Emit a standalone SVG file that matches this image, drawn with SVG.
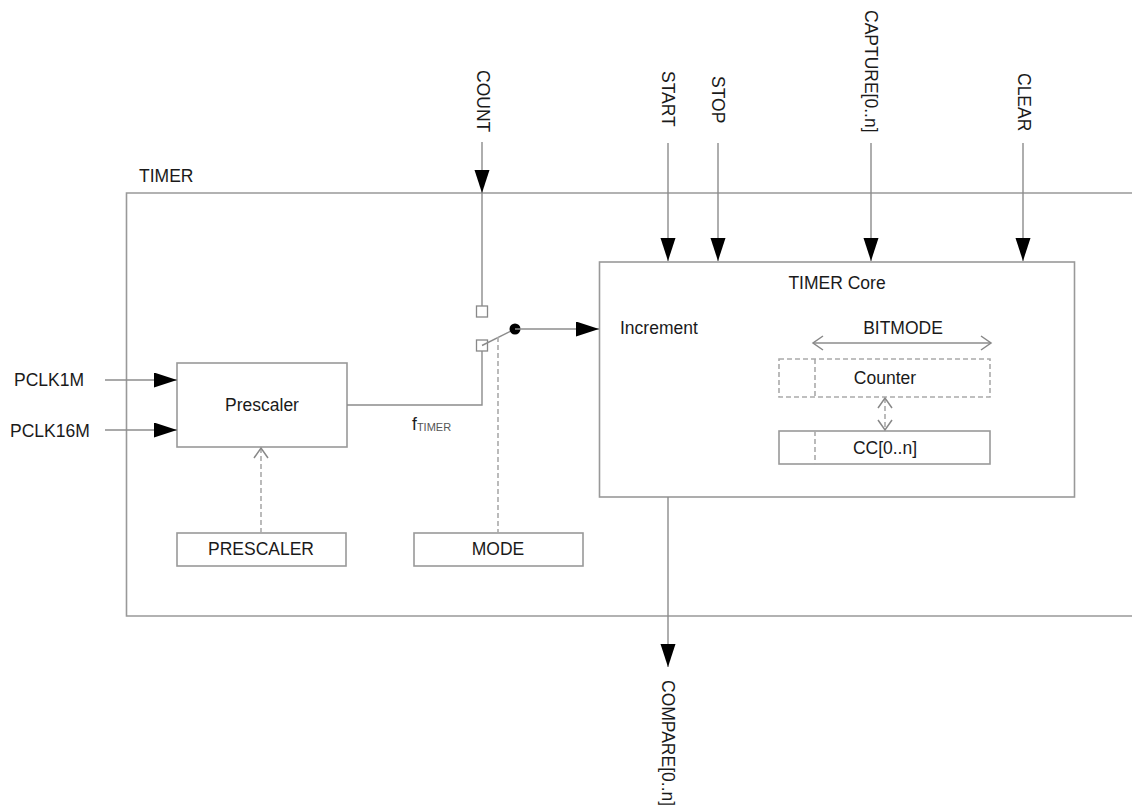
<svg xmlns="http://www.w3.org/2000/svg" width="1132" height="808" viewBox="0 0 1132 808">
<style>
text{font-family:"Liberation Sans",Arial,sans-serif;font-size:17.5px;fill:#1a1a1a}
.box{fill:none;stroke:#999;stroke-width:1.6}
.ln{fill:none;stroke:#8c8c8c;stroke-width:1.4}
.dash{fill:none;stroke:#aaa;stroke-width:1.6;stroke-dasharray:5,3}
.mid{text-anchor:middle}
</style>
<defs>
<marker id="ah" markerUnits="userSpaceOnUse" markerWidth="24" markerHeight="16" refX="23" refY="7.5" orient="auto" viewBox="0 0 24 16">
<path d="M0,0 L23,7.5 L0,15 z" fill="#000"/>
</marker>
<marker id="oh" markerUnits="userSpaceOnUse" markerWidth="14" markerHeight="18" refX="11" refY="8" orient="auto-start-reverse" viewBox="0 0 14 18">
<path d="M1,1 L11,8 L1,15" fill="none" stroke="#888" stroke-width="1.5"/>
</marker>
</defs>
<rect width="1132" height="808" fill="#fff"/>

<g id="timer">
<path class="box" d="M1132,193 H126.5 V616 H1132"/>
<text x="139" y="182">TIMER</text>
</g>

<g id="prescaler">
<rect class="box" x="177" y="363" width="170" height="84"/>
<text class="mid" x="262" y="411">Prescaler</text>
</g>

<g id="prescaler-reg">
<rect class="box" x="177" y="533" width="169" height="33"/>
<text class="mid" x="261" y="555">PRESCALER</text>
</g>

<g id="mode">
<rect class="box" x="414" y="533" width="169" height="33"/>
<text class="mid" x="498" y="555">MODE</text>
</g>

<g id="core">
<rect class="box" x="599.5" y="262" width="475" height="235"/>
<text class="mid" x="837" y="289">TIMER Core</text>
<text x="620" y="334">Increment</text>
<text class="mid" x="903" y="334">BITMODE</text>
</g>

<g id="counter">
<rect class="dash" x="779" y="359" width="211" height="38"/>
<line class="dash" x1="815" y1="359" x2="815" y2="397"/>
<text class="mid" x="885" y="384">Counter</text>
</g>

<g id="cc">
<rect class="box" x="779" y="431" width="211" height="33"/>
<line class="dash" x1="815" y1="431" x2="815" y2="464"/>
<text class="mid" x="885" y="454">CC[0..n]</text>
</g>

<g id="switch">
<rect x="476.5" y="306" width="11" height="11" fill="#fff" stroke="#888" stroke-width="1.3"/>
<rect x="476.5" y="340" width="11" height="11" fill="#fff" stroke="#888" stroke-width="1.3"/>
<line class="ln" x1="482" y1="345.5" x2="515" y2="329"/>
<circle cx="515" cy="329" r="5.5" fill="#000"/>
</g>

<g id="labels">
<text x="412" y="430" fill="#333">f<tspan font-size="11" dy="1" fill="#555">TIMER</tspan></text>
<text x="14" y="386">PCLK1M</text>
<text x="10" y="437">PCLK16M</text>
<text transform="translate(477,70) rotate(90)">COUNT</text>
<text transform="translate(662,71) rotate(90)">START</text>
<text transform="translate(712,76) rotate(90)">STOP</text>
<text transform="translate(865,10) rotate(90)">CAPTURE[0..n]</text>
<text transform="translate(1018,73) rotate(90)">CLEAR</text>
<text transform="translate(662,680) rotate(90)">COMPARE[0..n]</text>
</g>

<g id="connectors">
<line class="ln" x1="105" y1="380" x2="177" y2="380" marker-end="url(#ah)"/>
<line class="ln" x1="105" y1="430" x2="177" y2="430" marker-end="url(#ah)"/>
<line class="ln" x1="482" y1="142" x2="482" y2="193" marker-end="url(#ah)"/>
<line class="ln" x1="482" y1="193" x2="482" y2="306" stroke="#666"/>
<path class="ln" d="M347,405 H482 V351"/>
<line class="ln" x1="515" y1="329" x2="599" y2="329" marker-end="url(#ah)"/>
<line class="ln" x1="668" y1="143" x2="668" y2="261" marker-end="url(#ah)"/>
<line class="ln" x1="718" y1="143" x2="718" y2="261" marker-end="url(#ah)"/>
<line class="ln" x1="871" y1="143" x2="871" y2="261" marker-end="url(#ah)"/>
<line class="ln" x1="1023" y1="143" x2="1023" y2="261" marker-end="url(#ah)"/>
<line class="ln" x1="668" y1="497" x2="668" y2="667" marker-end="url(#ah)"/>
<line class="dash" x1="261" y1="533" x2="261" y2="448" marker-end="url(#oh)"/>
<line class="dash" x1="498" y1="337" x2="498" y2="533"/>
<line class="ln" x1="813" y1="343" x2="991" y2="343" marker-start="url(#oh)" marker-end="url(#oh)"/>
<line class="dash" x1="885" y1="398" x2="885" y2="430" marker-start="url(#oh)" marker-end="url(#oh)"/>
</g>
</svg>
